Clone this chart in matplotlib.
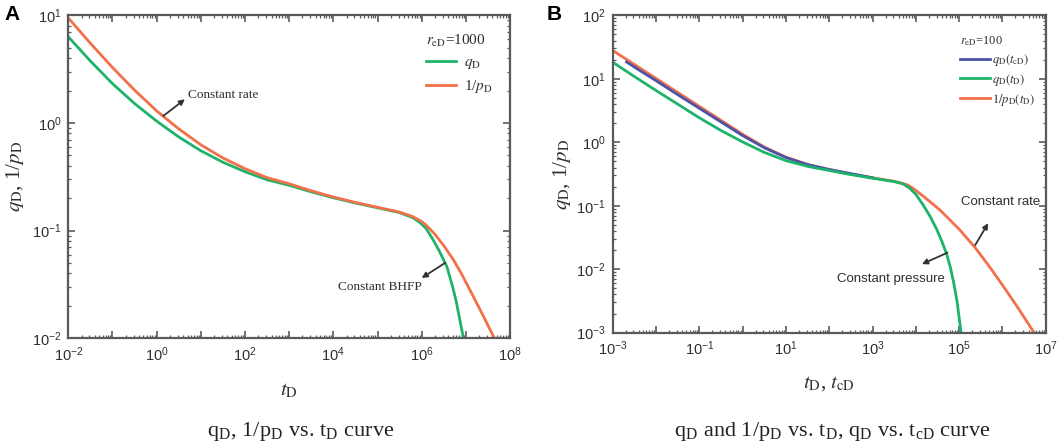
import numpy as np
import matplotlib
matplotlib.use("Agg")
import matplotlib.pyplot as plt
from matplotlib.ticker import FixedLocator, FuncFormatter, LogLocator, NullFormatter

plt.rcParams['mathtext.fontset'] = 'stix'

# ---------------- data (log10 exponents) ----------------
# Panel A  (r_eD = 1000)
a_orange_logt = [-2, -1.5, -1, -0.5, 0, 0.5, 1, 1.5, 2, 2.5, 3, 3.5, 4, 4.5, 5, 5.5, 5.8, 6.0, 6.1, 6.2, 6.3, 6.5, 6.72, 6.9, 7.17, 7.4, 7.67]
a_orange_logq = [0.975, 0.74, 0.515, 0.305, 0.112, -0.055, -0.203, -0.325, -0.425, -0.508, -0.565, -0.63, -0.688, -0.738, -0.783, -0.828, -0.87, -0.915, -0.95, -0.99, -1.035, -1.14, -1.272, -1.40, -1.613, -1.797, -2.02]
a_green_logt = [-2, -1.5, -1, -0.5, 0, 0.5, 1, 1.5, 2, 2.5, 3, 3.5, 4, 4.5, 5, 5.5, 5.8, 5.96, 6.1, 6.26, 6.4, 6.57, 6.7, 6.79, 6.86, 6.96]
a_green_logq = [0.80, 0.575, 0.365, 0.18, 0.017, -0.13, -0.258, -0.365, -0.453, -0.528, -0.579, -0.64, -0.695, -0.744, -0.788, -0.833, -0.88, -0.925, -0.98, -1.086, -1.19, -1.334, -1.52, -1.674, -1.82, -2.03]

# Panel B  (r_eD = 100)
b_orange_logt = [-3, -2.5, -2, -1.5, -1, -0.5, 0, 0.5, 1, 1.5, 2, 2.5, 3, 3.5, 3.65, 3.8, 3.9, 4.0, 4.17, 4.35, 4.56, 5.0, 5.37, 5.7, 6.0, 6.35, 6.74]
b_orange_logq = [1.445, 1.225, 1.005, 0.785, 0.565, 0.345, 0.125, -0.075, -0.235, -0.35, -0.43, -0.50, -0.56, -0.615, -0.64, -0.67, -0.71, -0.76, -0.85, -0.95, -1.07, -1.37, -1.66, -1.96, -2.25, -2.60, -3.01]
b_blue_logt = [-2.68, -2.5, -2, -1.5, -1, -0.5, 0, 0.5, 1, 1.5, 2, 3]
b_blue_logq = [1.265, 1.185, 0.97, 0.75, 0.535, 0.32, 0.105, -0.087, -0.241, -0.353, -0.43, -0.56]
b_green_logt = [-3, -2.5, -2, -1.5, -1, -0.5, 0, 0.5, 1, 1.5, 2, 2.5, 3, 3.5, 3.7, 3.85, 4.0, 4.17, 4.33, 4.48, 4.6, 4.71, 4.8, 4.87, 4.95, 5.05]
b_green_logq = [1.26, 1.035, 0.815, 0.60, 0.385, 0.185, 0.005, -0.16, -0.29, -0.38, -0.445, -0.51, -0.567, -0.62, -0.655, -0.72, -0.82, -0.99, -1.17, -1.37, -1.56, -1.76, -1.98, -2.20, -2.50, -3.03]

a_xticks_exp = list(range(-2, 9))
a_yticks_exp = list(range(-2, 2))
b_xticks_exp = list(range(-3, 8))
b_yticks_exp = list(range(-3, 3))

a_caption = r'q$_\mathregular{D}$, 1/p$_\mathregular{D}$ vs. t$_\mathregular{D}$ curve'
b_caption = (r'q$_\mathregular{D}$ and 1/p$_\mathregular{D}$ vs. t$_\mathregular{D}$, '
             r'q$_\mathregular{D}$ vs. t$_\mathregular{cD}$ curve')

GREEN = '#1db36a'
ORANGE = '#f2704a'
BLUE = '#4b52a8'
FRAME = '#5a5a5a'
TXT = '#2e2e2e'


def p(v):
    return 10.0 ** np.asarray(v, dtype=float)


fig = plt.figure(figsize=(10.59, 4.48), dpi=100)
axA = fig.add_axes([0.0645, 0.2449, 0.4171, 0.7210])
axB = fig.add_axes([0.5786, 0.2574, 0.4089, 0.7085])


def style(ax, xexp, yexp, label_every=2):
    ax.set_xscale('log')
    ax.set_yscale('log')
    ax.set_xlim(10.0 ** xexp[0], 10.0 ** xexp[-1])
    ax.set_ylim(10.0 ** yexp[0], 10.0 ** yexp[-1])
    ax.xaxis.set_major_locator(FixedLocator([10.0 ** e for e in xexp]))
    ax.yaxis.set_major_locator(FixedLocator([10.0 ** e for e in yexp]))
    first = xexp[0]

    def xf(v, pos):
        e = int(round(np.log10(v)))
        if (e - first) % label_every:
            return ''
        return r'$\mathregular{10^{%d}}$' % e

    def yf(v, pos):
        e = int(round(np.log10(v)))
        return r'$\mathregular{10^{%d}}$' % e
    ax.xaxis.set_major_formatter(FuncFormatter(xf))
    ax.yaxis.set_major_formatter(FuncFormatter(yf))
    ax.xaxis.set_minor_locator(LogLocator(base=10, subs=np.arange(2, 10), numticks=50))
    ax.yaxis.set_minor_locator(LogLocator(base=10, subs=np.arange(2, 10), numticks=50))
    ax.xaxis.set_minor_formatter(NullFormatter())
    ax.yaxis.set_minor_formatter(NullFormatter())
    ax.tick_params(which='both', direction='in', top=True, right=True, color=FRAME)
    ax.tick_params(which='major', length=5, width=1.2, labelsize=10.5, labelcolor=TXT, pad=5)
    ax.tick_params(which='minor', length=2.5, width=0.9)
    for lab in ax.get_xticklabels() + ax.get_yticklabels():
        lab.set_family('Liberation Sans')
    for s in ax.spines.values():
        s.set_color(FRAME)
        s.set_linewidth(1.6)


style(axA, a_xticks_exp, a_yticks_exp)
style(axB, b_xticks_exp, b_yticks_exp)

ARROW = dict(arrowstyle='-|>', color='#333333', lw=1.3, mutation_scale=8, shrinkA=0, shrinkB=0)

# ---------------- panel A ----------------
axA.plot(p(a_green_logt), p(a_green_logq), color=GREEN, lw=2.0, label=r'$q_\mathrm{D}$')
axA.plot(p(a_orange_logt), p(a_orange_logq), color=ORANGE, lw=2.0, label=r'1/$p_\mathrm{D}$')
legA = axA.legend(loc='upper left', bbox_to_anchor=(0.795, 0.965), frameon=False,
                  title=r'$r_\mathrm{eD}$=1000', handlelength=2.0, handletextpad=0.5,
                  labelspacing=0.45, borderaxespad=0.0,
                  prop={'family': 'Liberation Serif', 'size': 11},
                  title_fontproperties={'family': 'Liberation Serif', 'size': 11})
legA._legend_box.align = 'left'
for t in legA.get_texts():
    t.set_color(TXT)
legA.get_title().set_color(TXT)

axA.set_xlabel(r'$t_\mathrm{D}$', fontsize=15, color=TXT, labelpad=12)
axA.set_ylabel(r'$q_\mathrm{D}$, 1/$p_\mathrm{D}$', fontsize=15, color=TXT, labelpad=4,
               family='Liberation Serif')

axA.annotate('', xy=(10 ** 0.64, 10 ** 0.22), xytext=(10 ** 0.15, 10 ** 0.065), arrowprops=ARROW)
axA.text(10 ** 0.70, 10 ** 0.26, 'Constant rate', fontsize=9.5, family='Liberation Serif',
         color=TXT, va='center', ha='left')
axA.annotate('', xy=(10 ** 6.0, 10 ** -1.44), xytext=(10 ** 6.53, 10 ** -1.30), arrowprops=ARROW)
axA.text(10 ** 4.1, 10 ** -1.52, 'Constant BHFP', fontsize=9.5, family='Liberation Serif',
         color=TXT, va='center', ha='left')

# ---------------- panel B ----------------
axB.plot(p(b_blue_logt), p(b_blue_logq), color=BLUE, lw=2.0, label=r'$q_\mathrm{D}(t_\mathrm{cD})$', zorder=2)
axB.plot(p(b_green_logt), p(b_green_logq), color=GREEN, lw=2.0, label=r'$q_\mathrm{D}(t_\mathrm{D})$', zorder=2.1)
axB.plot(p(b_orange_logt), p(b_orange_logq), color=ORANGE, lw=2.0, label=r'$1/p_\mathrm{D}(t_\mathrm{D})$', zorder=1.9)
legB = axB.legend(loc='upper left', bbox_to_anchor=(0.79, 0.955), frameon=False,
                  title=r'$r_\mathrm{eD}$=100', handlelength=2.4, handletextpad=0.2,
                  labelspacing=0.3, borderaxespad=0.0,
                  prop={'family': 'Liberation Serif', 'size': 9},
                  title_fontproperties={'family': 'Liberation Serif', 'size': 9})
legB._legend_box.align = 'left'
for t in legB.get_texts():
    t.set_color(TXT)
legB.get_title().set_color(TXT)

axB.set_xlabel(r'$t_\mathrm{D}$, $t_\mathrm{cD}$', fontsize=15, color=TXT, labelpad=11,
               family='Liberation Serif')
axB.set_ylabel(r'$q_\mathrm{D}$, 1/$p_\mathrm{D}$', fontsize=15, color=TXT, labelpad=2,
               family='Liberation Serif')

axB.annotate('', xy=(10 ** 5.67, 10 ** -1.276), xytext=(10 ** 5.37, 10 ** -1.62), arrowprops=ARROW)
axB.text(10 ** 5.04, 10 ** -0.935, 'Constant rate', fontsize=9.5, family='Liberation Sans',
         color=TXT, va='center', ha='left')
axB.annotate('', xy=(10 ** 4.14, 10 ** -1.92), xytext=(10 ** 4.73, 10 ** -1.74), arrowprops=ARROW)
axB.text(10 ** 2.17, 10 ** -2.16, 'Constant pressure', fontsize=9.5, family='Liberation Sans',
         color=TXT, va='center', ha='left')

# ---------------- panel letters & captions ----------------
fig.text(0.004, 0.968, 'A', fontsize=15, fontweight='bold', family='Liberation Sans', va='center')
fig.text(0.516, 0.968, 'B', fontsize=15, fontweight='bold', family='Liberation Sans', va='center')
fig.text(0.284, 0.036, a_caption, fontsize=16, family='Liberation Serif', ha='center', va='center',
         color='#222222')
fig.text(0.786, 0.036, b_caption, fontsize=16, family='Liberation Serif', ha='center', va='center',
         color='#222222')

fig.savefig('out.png', dpi=100)
